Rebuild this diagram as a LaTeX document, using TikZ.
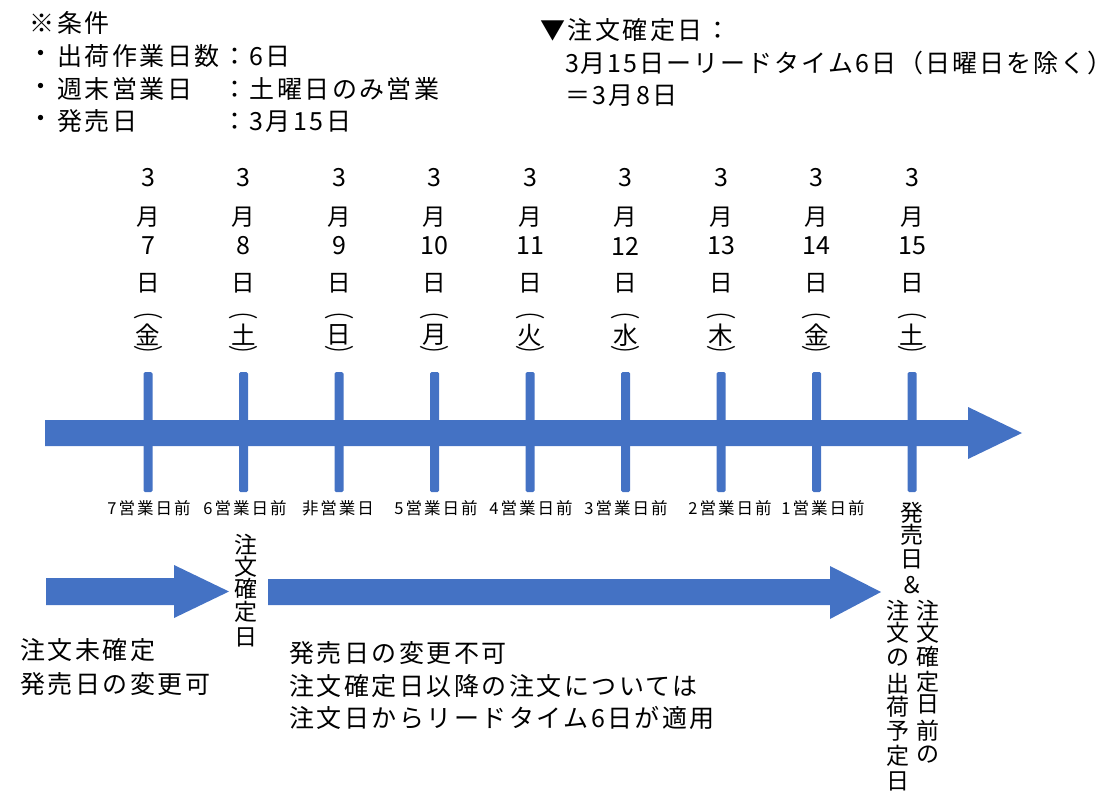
\documentclass[tikz,border=0pt]{standalone}
\usepackage{fontspec}
\setmainfont[LetterSpace=10]{Noto Sans CJK JP}
\newfontfamily\jpn[LetterSpace=10]{Noto Sans CJK JP}
\newfontfamily\jpnn[LetterSpace=8]{Noto Sans CJK JP}
\newfontfamily\jpns[LetterSpace=12]{Noto Sans CJK JP}
\newfontfamily\jpnplain{Noto Sans CJK JP}
\newfontfamily\jpnlight{Noto Sans CJK JP}
\definecolor{ablue}{RGB}{68,114,196}
\newcommand\fsBig{\jpn\fontsize{25}{30}\selectfont}
\newcommand\fsBigN{\jpnn\fontsize{25}{30}\selectfont}
\newcommand\fsCol{\jpnplain\fontsize{23.5}{26}\selectfont}
\newcommand\fsDig{\jpnplain\fontsize{25}{28}\selectfont}
\newcommand\fsWk{\jpnplain\fontsize{24.5}{28}\selectfont}
\newcommand\fsPar{\jpnplain\fontsize{26}{28}\selectfont}
\newcommand\fsSm{\jpns\fontsize{16.5}{20}\selectfont}
\newcommand\fsVert{\jpnplain\fontsize{23}{26}\selectfont}
\newcommand\parop{\scalebox{1.15}[0.7]{︵}}
\newcommand\parcl{\scalebox{1.15}[0.7]{︶}}
\begin{document}
\begin{tikzpicture}[x=1pt,y=-1pt,
  tl/.style={inner sep=0pt, outer sep=0pt, anchor=west, font=\fsBig},
  tc/.style={inner sep=0pt, outer sep=0pt, anchor=center},
  blk/.style={fill=ablue, draw=none}]
\useasboundingbox (0,0) rectangle (1117,803);

% ---- conditions (top left)
\node[tl] (cond) at (30,22.5) {※条件};
\node[tc, font=\fsBig] (b1) at (40.5,56.5) {・};
\node[tc, font=\fsBig] (b2) at (40.5,89) {・};
\node[tc, font=\fsBig] (b3) at (40.5,121) {・};
\node[tl] (c1) at (57,56.5) {出荷作業日数：6日};
\node[tl] (c2) at (57,89) {週末営業日　：土曜日のみ営業};
\node[tl] (c3) at (57,121) {発売日　　　：3月15日};

% ---- order fixing date (top right)
\node[tl] (f1) at (540,30) {▼注文確定日：};
\node[tl, font=\fsBigN] (f2) at (565,63) {3月15日ーリードタイム6日（日曜日を除く）};
\node[tl] (f3) at (565,96) {＝3月8日};

% ---- main time axis
\fill[blk] (45,420) -- (968,420) -- (968,407) -- (1022,433) -- (968,459) -- (968,446) -- (45,446) -- cycle;

% ---- date columns and ticks
\foreach \i/\d/\w in {0/7/金,1/8/土,2/9/日,3/10/月,4/11/火,5/12/水,6/13/木,7/14/金,8/15/土}{
  \pgfmathsetmacro\xx{148+95.5*\i}
  \fill[blk, rounded corners=1.5pt] (\xx-4.5,372) rectangle (\xx+4.5,492);
  \node[tc, font=\fsDig] (y\i) at (\xx,178) {3};
  \node[tc, font=\fsCol] (m\i) at (\xx,217) {月};
  \node[tc, font=\fsDig] (d\i) at (\xx,246) {\d};
  \node[tc, font=\fsCol] (n\i) at (\xx,283) {日};
  \node[tc, font=\fsPar] (po\i) at (\xx,316) {\parop};
  \node[tc, font=\fsWk] (w\i) at (\xx,335) {\w};
  \node[tc, font=\fsPar] (pc\i) at (\xx,354) {\parcl};
}

% ---- labels under ticks
\foreach \x/\t [count=\k] in {149/7営業日前,245/6営業日前,338/非営業日,436/5営業日前,531/4営業日前,626/3営業日前,730/2営業日前,823/1営業日前}{
  \node[tc, font=\fsSm] (lab\k) at (\x,508) {\t};
}

% ---- vertical: order fixing date
\foreach \c/\yy [count=\k] in {注/545,文/567,確/589,定/612,日/637}{
  \node[tc, font=\fsVert] (v\k) at (246,\yy) {\c};
}

% ---- vertical: release date column
\foreach \c/\yy [count=\k] in {発/513,売/535,日/559,＆/585}{
  \node[tc, font=\fsVert] (r\k) at (912,\yy) {\c};
}
\foreach \c/\yy [count=\k] in {注/611,文/633,確/657,定/682,日/704,前/731,の/755}{
  \node[tc, font=\fsVert] (s\k) at (927.5,\yy) {\c};
}
\foreach \c/\yy [count=\k] in {注/611,文/633,の/658,出/684,荷/707,予/731,定/756,日/781}{
  \node[tc, font=\fsVert] (u\k) at (898,\yy) {\c};
}

% ---- lower arrows
\fill[blk] (46,578) -- (174,578) -- (174,565) -- (229,591.5) -- (174,618) -- (174,605) -- (46,605) -- cycle;
\fill[blk] (268,579) -- (830,579) -- (830,566) -- (881,592) -- (830,619) -- (830,605) -- (268,605) -- cycle;

% ---- lower texts
\node[tl] (p1) at (20,650) {注文未確定};
\node[tl] (p2) at (20,684) {発売日の変更可};
\node[tl] (q1) at (289,653) {発売日の変更不可};
\node[tl] (q2) at (289,686) {注文確定日以降の注文については};
\node[tl] (q3) at (289,718) {注文日からリードタイム6日が適用};
\end{tikzpicture}
\end{document}
